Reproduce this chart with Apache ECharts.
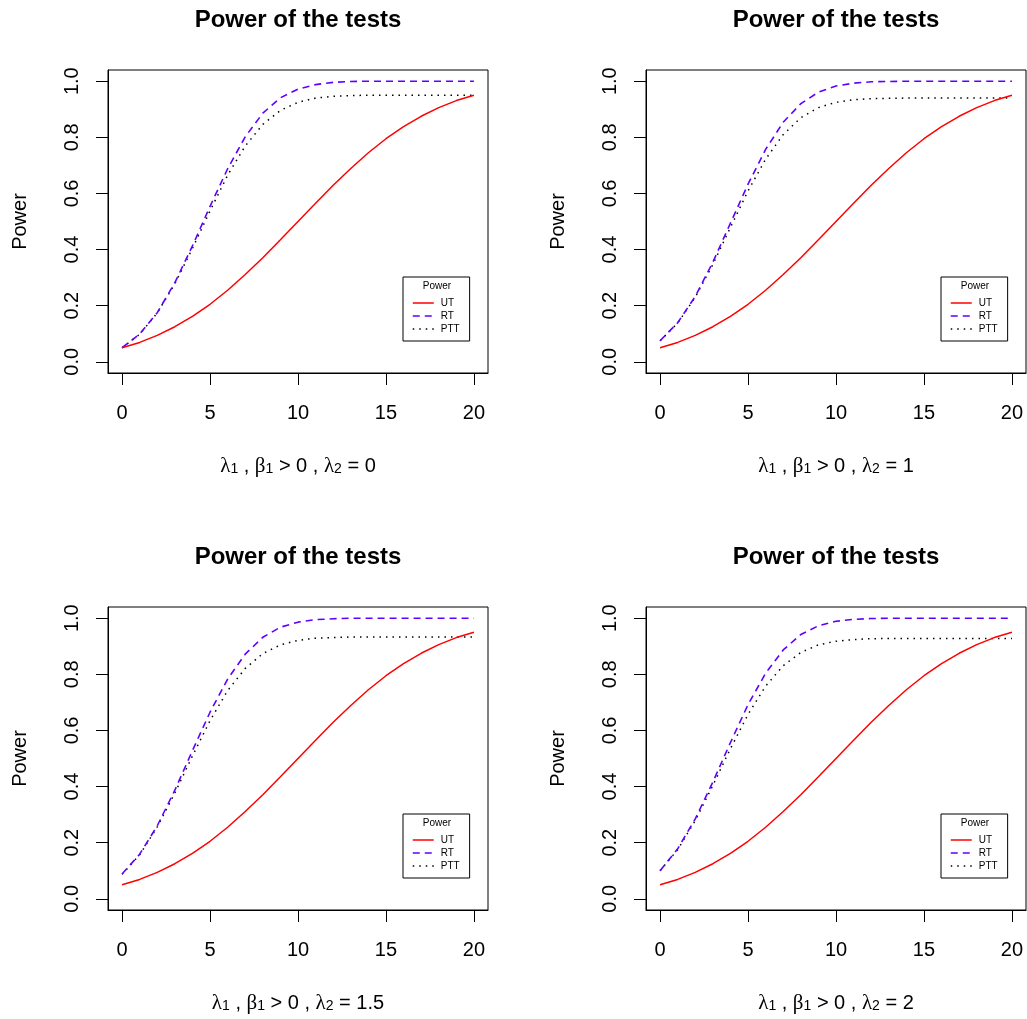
<!DOCTYPE html>
<html>
<head>
<meta charset="utf-8">
<script src="https://cdn.jsdelivr.net/npm/echarts@6/dist/echarts.min.js"></script>
<style>
  html, body { margin: 0; padding: 0; background: #fff; }
  #chart { width: 1027px; height: 1019px; }
</style>
</head>
<body>
<div id="chart"></div>
<script>
  // lambda_1 values on the x axis
  var lambda1 = [0, 1, 2, 3, 4, 5, 6, 7, 8, 9, 10, 11, 12, 13, 14, 15, 16, 17, 18, 19, 20];

  // UT is the same in all four panels
  var utPower = [0.050, 0.069, 0.094, 0.125, 0.162, 0.205, 0.255, 0.311, 0.371, 0.435, 0.500,
                 0.565, 0.629, 0.689, 0.745, 0.795, 0.838, 0.875, 0.906, 0.931, 0.950];

  // lambda_2 = 0
  var rtPower0  = [0.050, 0.099, 0.175, 0.282, 0.413, 0.554, 0.688, 0.802, 0.886, 0.941, 0.972,
                   0.988, 0.996, 0.999, 1, 1, 1, 1, 1, 1, 1];
  var pttPower0 = [0.050, 0.098, 0.174, 0.278, 0.404, 0.538, 0.665, 0.769, 0.846, 0.896, 0.925,
                   0.940, 0.946, 0.949, 0.950, 0.950, 0.950, 0.950, 0.950, 0.950, 0.950];
  // lambda_2 = 1
  var rtPower1  = [0.075, 0.139, 0.233, 0.355, 0.494, 0.633, 0.757, 0.854, 0.920, 0.961, 0.983,
                   0.993, 0.998, 0.999, 1, 1, 1, 1, 1, 1, 1];
  var pttPower1 = [0.075, 0.138, 0.230, 0.347, 0.479, 0.609, 0.722, 0.810, 0.870, 0.906, 0.925,
                   0.934, 0.938, 0.939, 0.940, 0.940, 0.940, 0.940, 0.940, 0.940, 0.940];
  // lambda_2 = 1.5
  var rtPower15  = [0.088, 0.159, 0.260, 0.387, 0.528, 0.665, 0.783, 0.872, 0.932, 0.968, 0.986,
                    0.995, 0.998, 1, 1, 1, 1, 1, 1, 1, 1];
  var pttPower15 = [0.087, 0.157, 0.256, 0.377, 0.509, 0.635, 0.742, 0.821, 0.874, 0.905, 0.921,
                    0.929, 0.931, 0.933, 0.933, 0.933, 0.933, 0.933, 0.933, 0.933, 0.933];
  // lambda_2 = 2
  var rtPower2  = [0.100, 0.178, 0.285, 0.416, 0.557, 0.692, 0.804, 0.887, 0.942, 0.973, 0.989,
                   0.996, 0.999, 1, 1, 1, 1, 1, 1, 1, 1];
  var pttPower2 = [0.100, 0.175, 0.279, 0.404, 0.535, 0.657, 0.758, 0.831, 0.878, 0.905, 0.918,
                   0.924, 0.927, 0.928, 0.928, 0.928, 0.928, 0.928, 0.928, 0.928, 0.928];

  var lambda2Labels = ['0', '1', '1.5', '2'];
  var xTicks = [0, 5, 10, 15, 20];
  var yTicks = [0, 0.2, 0.4, 0.6, 0.8, 1.0];
  var seriesNames = ['UT', 'RT', 'PTT'];

  var panelData = [
    [utPower, rtPower0, pttPower0],
    [utPower, rtPower1, pttPower1],
    [utPower, rtPower15, pttPower15],
    [utPower, rtPower2, pttPower2]
  ];

  // layout of the 2x2 panels (plot box corners)
  var boxes = [
    { left: 108, top: 70 },
    { left: 646, top: 70 },
    { left: 108, top: 607 },
    { left: 646, top: 607 }
  ];
  var boxW = 380, boxH = 303;

  var sansFont = 'Liberation Sans, Arial, Helvetica, sans-serif';
  var lineStyles = [
    { color: '#FF0000', width: 1.5, type: 'solid' },
    { color: '#5F00FF', width: 1.6, type: [7, 5] },
    { color: '#000000', width: 1.5, type: [1.5, 5] }
  ];

  function pairs(xs, ys) {
    var out = [];
    for (var i = 0; i < xs.length; i++) out.push([xs[i], ys[i]]);
    return out;
  }

  function xName(l2) {
    return '{g|λ}{s|1}{t| , }{g|β}{s|1}{t| > 0 , }{g|λ}{s|2}{t| = ' + l2 + '}';
  }

  var grids = [], xAxes = [], yAxes = [], series = [], titles = [], legends = [];

  boxes.forEach(function (b, p) {
    grids.push({
      left: b.left, top: b.top, width: boxW, height: boxH,
      show: true, borderColor: '#000', borderWidth: 1, backgroundColor: 'transparent'
    });
    xAxes.push({
      gridIndex: p, type: 'value', min: -0.8, max: 20.8,
      splitLine: { show: false },
      axisLine: { show: true, onZero: false, lineStyle: { color: '#000', width: 1 } },
      axisTick: { show: true, inside: false, length: 12, customValues: xTicks,
                  lineStyle: { color: '#000', width: 1 } },
      axisLabel: { customValues: xTicks, margin: 30, color: '#000',
                   fontSize: 20, fontFamily: sansFont },
      name: xName(lambda2Labels[p]),
      nameLocation: 'middle', nameGap: 83,
      nameTextStyle: {
        color: '#000',
        rich: {
          g: { fontFamily: 'Liberation Serif, DejaVu Serif, serif', fontSize: 21, color: '#000', lineHeight: 20, verticalAlign: 'middle' },
          t: { fontFamily: sansFont, fontSize: 20, color: '#000', lineHeight: 20, verticalAlign: 'middle' },
          s: { fontFamily: sansFont, fontSize: 14, color: '#000', lineHeight: 14, padding: [15, 0, 0, 0], verticalAlign: 'bottom' }
        }
      }
    });
    yAxes.push({
      gridIndex: p, type: 'value', min: -0.04, max: 1.04,
      splitLine: { show: false },
      axisLine: { show: true, onZero: false, lineStyle: { color: '#000', width: 1 } },
      axisTick: { show: true, inside: false, length: 12, customValues: yTicks,
                  lineStyle: { color: '#000', width: 1 } },
      axisLabel: { customValues: yTicks, rotate: 90, margin: 26, color: '#000',
                   fontSize: 20, fontFamily: sansFont,
                   formatter: function (v) { return v.toFixed(1); } },
      name: 'Power', nameLocation: 'middle', nameGap: 78, nameRotate: 90,
      nameTextStyle: { color: '#000', fontSize: 20, fontFamily: sansFont }
    });
    panelData[p].forEach(function (vals, s) {
      series.push({
        name: seriesNames[s], type: 'line', xAxisIndex: p, yAxisIndex: p,
        data: pairs(lambda1, vals),
        symbol: 'none', showSymbol: false, smooth: false,
        lineStyle: lineStyles[s], itemStyle: { color: lineStyles[s].color },
        z: 3 - s
      });
    });
    titles.push({
      text: 'Power of the tests', left: b.left + boxW / 2, top: b.top - 62,
      textAlign: 'center', padding: 0,
      textStyle: { fontSize: 24, fontWeight: 'bold', color: '#000', fontFamily: sansFont }
    });
    // legend title
    titles.push({
      text: 'Power', left: b.left + 329, top: b.top + 211,
      textAlign: 'center', padding: 0,
      textStyle: { fontSize: 10, fontWeight: 'normal', color: '#000', fontFamily: sansFont }
    });
    legends.push({
      data: seriesNames, orient: 'vertical',
      left: b.left + 295, top: b.top + 207,
      padding: [21, 10, 7, 9], itemGap: 3, itemWidth: 21, itemHeight: 10,
      borderColor: '#000', borderWidth: 1, borderRadius: 0,
      selectedMode: false,
      itemStyle: { opacity: 0, color: 'rgba(0,0,0,0)', borderWidth: 0 },
      lineStyle: { width: 1.5 },
      textStyle: { fontSize: 10, color: '#000', fontFamily: sansFont, padding: [0, 0, 0, 2] }
    });
  });

  var chart = echarts.init(document.getElementById('chart'), null, { renderer: 'canvas' });
  chart.setOption({
    animation: false,
    backgroundColor: '#fff',
    title: titles,
    legend: legends,
    grid: grids,
    xAxis: xAxes,
    yAxis: yAxes,
    series: series
  });
</script>
</body>
</html>
